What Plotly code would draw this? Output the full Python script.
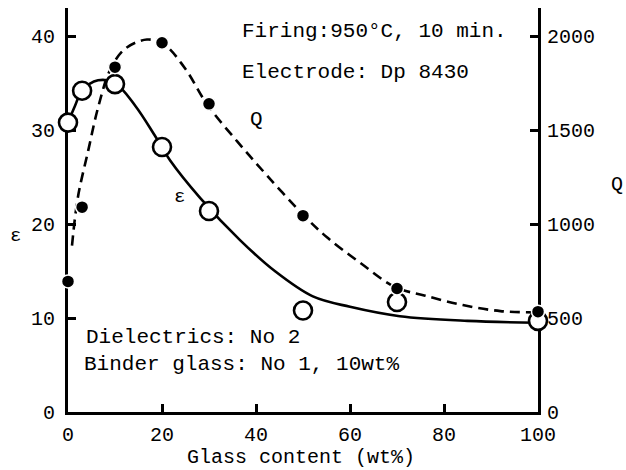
import plotly.graph_objects as go

# ---- data ----
glass_eps = [0, 3, 10, 20, 30, 50, 70, 100]
eps_vals = [30.8, 34.2, 34.9, 28.2, 21.4, 10.8, 11.7, 9.7]

glass_q = [0, 3, 10, 20, 30, 50, 70, 100]
q_vals = [695, 1090, 1835, 1965, 1640, 1045, 657, 534]

# hand-drawn fitted curves (guide points)
eps_curve_x = [0, 1.5, 3, 6.4, 10, 14.3, 18.5, 21.7, 28.1, 36.6, 44, 52.1, 60, 70.6, 85, 99.6]
eps_curve_y = [30.8, 32.6, 34.2, 35.3, 35.0, 32.6, 29.4, 26.8, 22.8, 18.3, 15.0, 12.3, 11.2, 10.2, 9.7, 9.5]

q_curve_x = [0.85, 2.1, 4.3, 6.4, 8.9, 12, 16.8, 20.5, 25, 29.6, 36, 42.3, 50.2, 55.1,
             62.1, 69.6, 76, 84, 92, 99.4]
q_curve_y = [886, 1142, 1391, 1620, 1817, 1930, 1982, 1955, 1825, 1637, 1440, 1260, 1045, 930,
             795, 665, 619, 569, 537, 530]

x_ticks = [0, 20, 40, 60, 80, 100]
eps_ticks = [0, 10, 20, 30, 40]
q_ticks = [0, 500, 1000, 1500, 2000]

FONT = "Liberation Mono, Courier New, monospace"

fig = go.Figure()

fig.add_trace(go.Scatter(x=q_curve_x, y=q_curve_y, yaxis="y2", mode="lines",
                         line=dict(color="black", width=2.6, dash="10px,6px",
                                   shape="spline", smoothing=1.0),
                         hoverinfo="skip", showlegend=False))
fig.add_trace(go.Scatter(x=eps_curve_x, y=eps_curve_y, mode="lines",
                         line=dict(color="black", width=2.6, shape="spline", smoothing=1.0),
                         hoverinfo="skip", showlegend=False))
fig.add_trace(go.Scatter(x=glass_q, y=q_vals, yaxis="y2", mode="markers",
                         marker=dict(symbol="circle", size=13, color="black",
                                     line=dict(color="white", width=1.5)),
                         cliponaxis=False, showlegend=False, name="Q"))
fig.add_trace(go.Scatter(x=glass_eps, y=eps_vals, mode="markers",
                         marker=dict(symbol="circle", size=18, color="white",
                                     line=dict(color="black", width=2.6)),
                         cliponaxis=False, showlegend=False, name="ε"))

L, R, T, B = 68, 88, 8, 58
W, H = 626, 470
pw, ph = W - L - R, H - T - B


def px(x):
    return (x - L) / pw


def py(y):
    return (H - B - y) / ph


ann = []


def txt(text, x, y, xanchor="left", size=21):
    ann.append(dict(text=text, x=px(x), y=py(y), xref="paper", yref="paper",
                    xanchor=xanchor, yanchor="middle", showarrow=False,
                    font=dict(family=FONT, size=size, color="black")))


txt("Firing:950°C, 10 min.", 240, 31)
txt("Electrode: Dp 8430", 240, 72)
txt("Q", 256, 119, "center")
txt("ε", 179, 197, "center", 19)
txt("Dielectrics: No 2", 84, 337)
txt("Binder glass: No 1, 10wt%", 82, 364)
txt("ε", 15, 236, "center", 19)
txt("Q", 617, 185, "center", 20)
txt("Glass content (wt%)", 301, 457, "center", 20)

axis_common = dict(showline=True, linecolor="black", linewidth=3, ticks="inside",
                   ticklen=8, tickwidth=2.5, tickcolor="black", showgrid=False,
                   zeroline=False, layer="below traces",
                   tickfont=dict(family=FONT, size=20, color="black"))

fig.update_layout(
    width=W, height=H,
    margin=dict(l=L, r=R, t=T, b=B),
    paper_bgcolor="white", plot_bgcolor="white",
    xaxis=dict(range=[0, 100], tickvals=x_ticks, ticklabelstandoff=2, **axis_common),
    yaxis=dict(range=[0, 43], tickvals=eps_ticks, ticklabelstandoff=6, **axis_common),
    yaxis2=dict(range=[0, 2150], tickvals=q_ticks, overlaying="y", side="right",
                ticklabelstandoff=2, **axis_common),
    annotations=ann,
    showlegend=False,
)

fig.write_html("out.html")
